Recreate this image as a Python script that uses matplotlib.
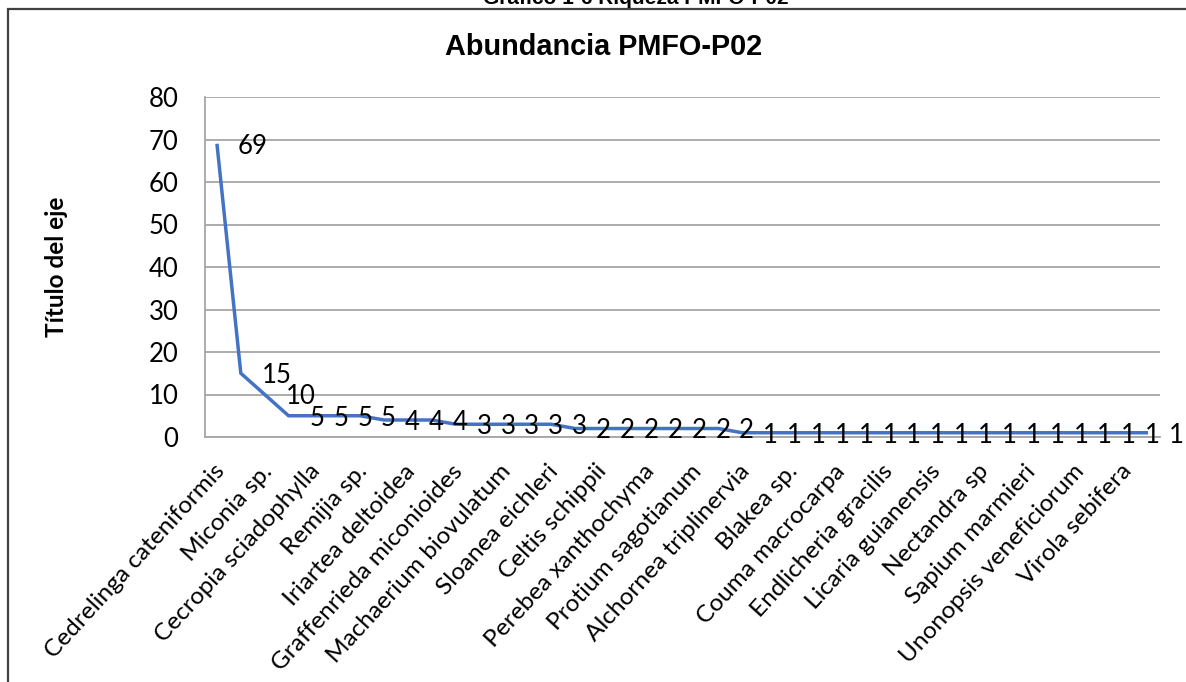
import matplotlib
matplotlib.use("Agg")
import matplotlib.pyplot as plt
from matplotlib.patches import Rectangle
from matplotlib.transforms import ScaledTranslation

# Species abundance ranking, plot PMFO-P02
abundance = [69, 15, 10, 5, 5, 5, 5, 4, 4, 4,
             3, 3, 3, 3, 3, 2, 2, 2, 2, 2,
             2, 2, 1, 1, 1, 1, 1, 1, 1, 1,
             1, 1, 1, 1, 1, 1, 1, 1, 1, 1]

# Category labels shown on the axis (every second species)
species_labels = [
    "Cedrelinga cateniformis", "Miconia sp.", "Cecropia sciadophylla",
    "Remijia sp.", "Iriartea deltoidea", "Graffenrieda miconioides",
    "Machaerium biovulatum", "Sloanea eichleri", "Celtis schippii",
    "Perebea xanthochyma", "Protium sagotianum", "Alchornea triplinervia",
    "Blakea sp.", "Couma macrocarpa", "Endlicheria gracilis",
    "Licaria guianensis", "Nectandra sp", "Sapium marmieri",
    "Unonopsis veneficiorum", "Virola sebifera",
]
y_ticks = [0, 10, 20, 30, 40, 50, 60, 70, 80]

W, H = 1186, 682
BODY = ["Lato", "DejaVu Sans"]
HEAD = ["Liberation Sans", "DejaVu Sans"]
GRID = "#a6a6a6"
FS = 18.5

fig = plt.figure(figsize=(W / 100, H / 100), dpi=100)
ax = fig.add_axes([205 / W, 1 - 437 / H, 955 / W, 340 / H])

x = list(range(len(abundance)))
ax.plot(x, abundance, color="#4472C4", lw=2.5, solid_joinstyle="miter",
        solid_capstyle="butt", zorder=3)

for xi, v in zip(x, abundance):
    ax.annotate(str(v), (xi, v), xytext=(15, 0), textcoords="offset points",
                ha="left", va="center_baseline", fontsize=FS,
                family=BODY, color="black", clip_on=False, zorder=4)

ax.set_xlim(-0.5, len(abundance) - 0.5)
ax.set_ylim(0, 80)
ax.set_yticks(y_ticks)
ax.set_yticklabels([str(t) for t in y_ticks], family=BODY, fontsize=FS)
ax.set_xticks(x[::2])
ax.set_xticklabels(species_labels, rotation=47.5, ha="right", va="top",
                   rotation_mode="anchor", family=BODY, fontsize=17.6)
ax.tick_params(axis="both", length=0)
ax.tick_params(axis="y", pad=19)
ax.tick_params(axis="x", pad=17)
shift = ScaledTranslation(-4 / 100, 0, fig.dpi_scale_trans)
for lbl in ax.get_xticklabels():
    lbl.set_transform(lbl.get_transform() + shift)

ax.grid(axis="y", color=GRID, lw=1.3)
ax.set_axisbelow(True)
for side in ("top", "right"):
    ax.spines[side].set_visible(False)
for side in ("left", "bottom"):
    ax.spines[side].set_color(GRID)
    ax.spines[side].set_linewidth(1.3)

fig.text(57 / W, 1 - 267 / H, "Título del eje", rotation=90, ha="center",
         va="center", fontsize=17.5, fontweight="bold", family=BODY)
fig.text(604 / W, 1 - 55 / H, "Abundancia PMFO-P02", ha="center",
         va="baseline", fontsize=20.8, fontweight="bold", family=HEAD)
fig.text(636 / W, 1 - 4 / H, "Gráfico 1-6 Riqueza PMFO-P02", ha="center",
         va="baseline", fontsize=15, fontweight="bold", family=HEAD)

# Chart frame
fig.add_artist(Rectangle((8 / W, -0.1), 1.2, 1.1 - 9 / H,
                         transform=fig.transFigure, fill=False,
                         ec="#404040", lw=1.6))

fig.savefig("out.png", dpi=100)
